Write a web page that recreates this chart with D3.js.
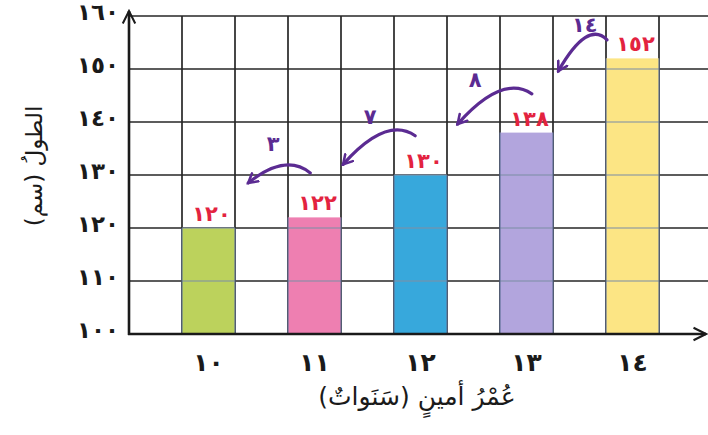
<!DOCTYPE html>
<html>
<head>
<meta charset="utf-8">
<script src="https://cdn.jsdelivr.net/npm/d3@7"></script>
<style>
body { margin: 0; background: #ffffff; }
svg { display: block; }
text { font-family: "DejaVu Sans", sans-serif; }
</style>
</head>
<body>
<div id="canvas"></div>
<script>
// ----------------------------------------------------------
// DATA -----------------------------------------------------
// ----------------------------------------------------------
var ages = ["١٠", "١١", "١٢", "١٣", "١٤"];
var heights = [120, 122, 130, 138, 152];
var bar_labels = ["١٢٠", "١٢٢", "١٣٠", "١٣٨", "١٥٢"];
var bar_colors = ["#bcd25c", "#ee7fb1", "#37a8dc", "#b2a5dd", "#fce584"];
var y_ticks = [100, 110, 120, 130, 140, 150, 160];
var y_tick_labels = ["١٠٠", "١١٠", "١٢٠", "١٣٠", "١٤٠", "١٥٠", "١٦٠"];
// handwritten notes (grid column, height value)
var note_texts = ["٣", "٧", "٨", "١٤"];
var note_start = [[3.42, 130.4], [5.4, 137.4], [7.6, 145.3], [9.02, 155.5]];
var note_end = [[2.25, 128.5], [4.04, 132], [6.2, 139.6], [8.1, 149.6]];
var note_text_pos = [[2.72, 136], [4.55, 141], [6.53, 148], [8.6, 158.3]];

// ----------------------------------------------------------
// STRUCTURE ------------------------------------------------
// ----------------------------------------------------------
var W = 708, H = 435;
var svg = d3.select("#canvas").append("svg")
  .attr("width", W)
  .attr("height", H)
  .style("background-color", "#ffffff");

var x0 = 129, x1 = 712, yBase = 334, yTop = 16;

var xBand = d3.scaleBand()
  .domain(ages)
  .range([x0, x1])
  .paddingInner(0.5)
  .paddingOuter(0.5);
var xCol = d3.scaleLinear().domain([0, 11]).range([x0, x1]);
var yScale = d3.scaleLinear().domain([100, 160]).range([yBase, yTop]);

var defs = svg.append("defs");
defs.append("marker")
  .attr("id", "arrow_purple")
  .attr("viewBox", "0 0 10 10")
  .attr("refX", 8).attr("refY", 5)
  .attr("markerWidth", 4).attr("markerHeight", 4)
  .attr("markerUnits", "strokeWidth")
  .attr("orient", "auto")
  .append("path")
  .attr("d", "M1,1 L8,5 L1,9")
  .attr("fill", "none")
  .attr("stroke", "#5b2b92")
  .attr("stroke-width", 2)
  .attr("stroke-linecap", "round");
defs.append("marker")
  .attr("id", "arrow_black")
  .attr("viewBox", "0 0 10 10")
  .attr("refX", 9).attr("refY", 5)
  .attr("markerWidth", 6).attr("markerHeight", 6)
  .attr("markerUnits", "strokeWidth")
  .attr("orient", "auto")
  .append("path")
  .attr("d", "M1,1 L9,5 L1,9")
  .attr("fill", "none")
  .attr("stroke", "#1a1a1a")
  .attr("stroke-width", 1.3);

var grid_layer = svg.append("g").attr("class", "grid");
var bar_layer = svg.append("g").attr("class", "bars");
var axis_layer = svg.append("g").attr("class", "axes");
var note_layer = svg.append("g").attr("class", "notes");

// ----------------------------------------------------------
// GRID -----------------------------------------------------
// ----------------------------------------------------------
grid_layer.selectAll(".hline")
  .data(y_ticks.slice(1))
  .enter().append("line")
  .attr("x1", x0).attr("x2", W)
  .attr("y1", function(d) { return yScale(d); })
  .attr("y2", function(d) { return yScale(d); })
  .attr("stroke", "#262626")
  .attr("stroke-width", 1.7);

grid_layer.selectAll(".vline")
  .data(d3.range(1, 11))
  .enter().append("line")
  .attr("x1", function(d) { return xCol(d); })
  .attr("x2", function(d) { return xCol(d); })
  .attr("y1", yScale(160)).attr("y2", yBase)
  .attr("stroke", "#262626")
  .attr("stroke-width", 1.7);

// ----------------------------------------------------------
// BARS -----------------------------------------------------
// ----------------------------------------------------------
bar_layer.selectAll("rect")
  .data(heights)
  .enter().append("rect")
  .attr("x", function(d, i) { return xBand(ages[i]); })
  .attr("y", function(d) { return yScale(d); })
  .attr("width", xBand.bandwidth())
  .attr("height", function(d) { return yBase - yScale(d); })
  .style("fill", function(d, i) { return bar_colors[i]; });

// grid shows faintly through the bars
heights.forEach(function(v, i) {
  var bx = xBand(ages[i]);
  bar_layer.selectAll(null)
    .data(y_ticks.filter(function(t) { return t > 100 && t <= v; }))
    .enter().append("line")
    .attr("x1", bx).attr("x2", bx + xBand.bandwidth())
    .attr("y1", function(t) { return yScale(t); })
    .attr("y2", function(t) { return yScale(t); })
    .attr("stroke", "#7d8ea6")
    .attr("stroke-opacity", 0.7)
    .attr("stroke-width", 1.4);
  [bx, bx + xBand.bandwidth()].forEach(function(ex) {
    bar_layer.append("line")
      .attr("x1", ex).attr("x2", ex)
      .attr("y1", yScale(v)).attr("y2", yBase)
      .attr("stroke", "#5d6f96")
      .attr("stroke-opacity", 0.8)
      .attr("stroke-width", 1.4);
  });
});

// value labels
bar_layer.selectAll(".bar_label")
  .data(heights)
  .enter().append("text")
  .attr("class", "bar_label")
  .attr("x", function(d, i) { return xBand(ages[i]) + xBand.bandwidth() / 2 + 3; })
  .attr("y", function(d) { return yScale(d) - 7; })
  .attr("text-anchor", "middle")
  .style("font-size", "21px")
  .style("font-weight", "bold")
  .style("fill", "#e3233f")
  .text(function(d, i) { return bar_labels[i]; });

// ----------------------------------------------------------
// AXES -----------------------------------------------------
// ----------------------------------------------------------
axis_layer.append("g")
  .attr("transform", "translate(" + x0 + ",0)")
  .call(d3.axisLeft(yScale).tickValues(y_ticks).tickSize(0).tickPadding(10)
    .tickFormat(function(d, i) { return y_tick_labels[i]; }))
  .call(function(g) {
    g.select(".domain").remove();
    g.selectAll("text")
      .style("font-family", "DejaVu Sans")
      .style("font-size", "23px")
      .style("font-weight", "bold")
      .attr("dy", "0.15em")
      .style("fill", "#1a1a1a");
  });

axis_layer.append("g")
  .attr("transform", "translate(0," + yBase + ")")
  .call(d3.axisBottom(xBand).tickSize(0).tickPadding(19))
  .call(function(g) {
    g.select(".domain").remove();
    g.selectAll("text")
      .style("font-family", "DejaVu Sans")
      .style("font-size", "25px")
      .style("font-weight", "bold")
      .style("fill", "#1a1a1a");
  });

// axis lines with arrows
axis_layer.append("line")
  .attr("x1", x0).attr("x2", x0)
  .attr("y1", yBase + 1).attr("y2", 11)
  .attr("stroke", "#1a1a1a").attr("stroke-width", 2.6)
  .attr("marker-end", "url(#arrow_black)");
axis_layer.append("line")
  .attr("x1", x0 - 1).attr("x2", 706)
  .attr("y1", yBase).attr("y2", yBase)
  .attr("stroke", "#1a1a1a").attr("stroke-width", 2.6)
  .attr("marker-end", "url(#arrow_black)");

// axis titles
axis_layer.append("text")
  .attr("transform", "translate(42,166) rotate(-90)")
  .attr("text-anchor", "middle")
  .style("font-size", "23px")
  .style("fill", "#1a1a1a")
  .text("الطولُ (سم)");
axis_layer.append("text")
  .attr("x", 417)
  .attr("y", 405)
  .attr("text-anchor", "middle")
  .style("font-size", "25px")
  .style("fill", "#1a1a1a")
  .text("عُمْرُ أمينٍ (سَنَواتٌ)");

// ----------------------------------------------------------
// NOTES ----------------------------------------------------
// ----------------------------------------------------------
note_texts.forEach(function(t, i) {
  var sx = xCol(note_start[i][0]), sy = yScale(note_start[i][1]);
  var ex = xCol(note_end[i][0]), ey = yScale(note_end[i][1]);
  var p = d3.path();
  p.moveTo(sx, sy);
  p.quadraticCurveTo(sx - (sx - ex) * 0.4, Math.min(sy, ey) - 20, ex, ey);
  note_layer.append("path")
    .attr("d", p.toString())
    .attr("fill", "none")
    .attr("stroke", "#5b2b92")
    .attr("stroke-width", 3.2)
    .attr("stroke-linecap", "round")
    .attr("marker-end", "url(#arrow_purple)");
  note_layer.append("text")
    .attr("x", xCol(note_text_pos[i][0]))
    .attr("y", yScale(note_text_pos[i][1]))
    .attr("dy", "0.35em")
    .attr("text-anchor", "middle")
    .style("font-size", "21px")
    .style("font-weight", "bold")
    .style("fill", "#5b2b92")
    .text(t);
});
</script>
</body>
</html>
